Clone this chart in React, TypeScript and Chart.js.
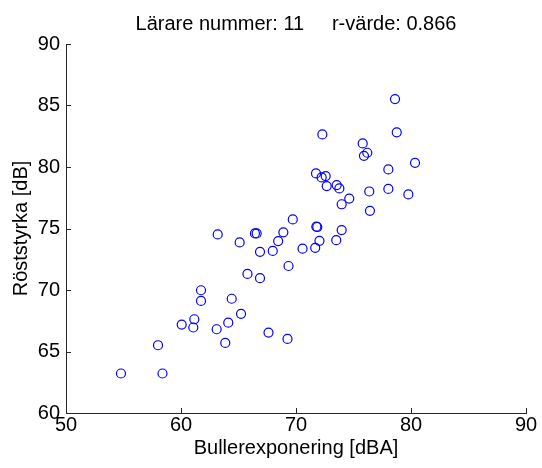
import React, { useEffect, useRef } from "react";
import { Chart, registerables } from "chart.js";

Chart.register(...registerables);

// Noise exposure (dBA) per measurement
const bullerexponering: number[] = [
  54.78, 58.39, 58.0, 60.06, 61.16, 61.07, 61.74, 61.74, 63.1, 63.85,
  64.11, 65.22, 64.41, 65.78, 66.87, 67.61, 69.26, 63.19, 65.1, 66.43,
  66.58, 66.87, 67.98, 68.45, 68.9, 69.72, 69.35, 70.57, 71.67, 72.04,
  71.77, 71.85, 73.5, 73.97, 73.97, 74.63, 76.43, 76.37, 78.03, 79.77,
  78.03, 80.35, 78.61, 78.76, 72.29, 75.8, 76.2, 75.91, 71.74, 72.23,
  72.58, 72.67, 73.54, 73.77,
];

// Voice level (dB) per measurement
const roststyrka: number[] = [
  63.21, 63.21, 65.51, 67.19, 67.62, 66.95, 69.98, 69.11, 66.81, 65.7,
  67.34, 68.06, 69.29, 71.31, 70.96, 66.54, 66.02, 74.52, 73.87, 74.6,
  74.6, 73.1, 73.18, 73.98, 74.69, 75.74, 71.95, 73.36, 73.43, 74.0,
  75.15, 75.12, 74.05, 74.87, 76.97, 77.43, 76.44, 78.01, 78.22, 77.77,
  79.8, 80.34, 85.52, 82.82, 82.65, 81.92, 81.16, 80.91, 79.48, 79.15,
  79.26, 78.45, 78.53, 78.26,
];

const xTicks: number[] = [50, 60, 70, 80, 90];
const yTicks: number[] = [60, 65, 70, 75, 80, 85, 90];

const titleText = "Lärare nummer: 11     r-värde: 0.866";
const xLabel = "Bullerexponering [dBA]";
const yLabel = "Röststyrka [dB]";

const FONT = "'Liberation Sans', Arial, Helvetica, sans-serif";
const AXIS_COLOR = "#262626";

const decorations = {
  id: "decorations",
  afterDraw(chart: any) {
    const { ctx, chartArea, scales } = chart;
    const xs = scales.x;
    const ys = scales.y;
    ctx.save();
    // inward tick marks
    ctx.strokeStyle = AXIS_COLOR;
    ctx.lineWidth = 1;
    ctx.beginPath();
    xTicks.forEach((v) => {
      const px = Math.round(xs.getPixelForValue(v)) + 0.5;
      ctx.moveTo(px, chartArea.bottom);
      ctx.lineTo(px, chartArea.bottom - 5);
    });
    yTicks.forEach((v) => {
      const py = Math.round(ys.getPixelForValue(v)) + 0.5;
      ctx.moveTo(chartArea.left, py);
      ctx.lineTo(chartArea.left + 5, py);
    });
    ctx.stroke();

    ctx.fillStyle = "#000";
    ctx.font = `20px ${FONT}`;
    const cx = (chartArea.left + chartArea.right) / 2;
    const cy = (chartArea.top + chartArea.bottom) / 2;

    ctx.textAlign = "center";
    ctx.textBaseline = "alphabetic";
    ctx.fillText(titleText, cx, 29.5);
    ctx.fillText(xLabel, cx, 454);

    ctx.translate(27, cy);
    ctx.rotate(-Math.PI / 2);
    ctx.fillText(yLabel, 0, 0);
    ctx.restore();
  },
};

export default function App() {
  const canvasRef = useRef<HTMLCanvasElement | null>(null);

  useEffect(() => {
    document.body.style.margin = "0";
    const canvas = canvasRef.current;
    if (!canvas) return;
    const points = bullerexponering.map((x, i) => ({ x, y: roststyrka[i] }));
    const chart = new Chart(canvas, {
      type: "scatter",
      data: {
        datasets: [
          {
            data: points,
            pointStyle: "circle",
            pointRadius: 4.5,
            pointHoverRadius: 4.5,
            pointBorderWidth: 1.2,
            pointBorderColor: "#0000ff",
            pointBackgroundColor: "rgba(0,0,0,0)",
          },
        ],
      },
      options: {
        responsive: false,
        devicePixelRatio: 1,
        animation: false,
        layout: { padding: { top: 44, right: 16, left: 0, bottom: 0 } },
        plugins: {
          legend: { display: false },
          tooltip: { enabled: false },
          title: { display: false },
        },
        scales: {
          x: {
            type: "linear",
            min: 50,
            max: 90,
            afterBuildTicks: (scale: any) => {
              scale.ticks = xTicks.map((v) => ({ value: v }));
            },
            afterFit: (scale: any) => {
              scale.height = 55;
            },
            grid: { display: false, drawTicks: false },
            border: { display: true, color: AXIS_COLOR, width: 1 },
            ticks: {
              color: "#000",
              font: { family: FONT, size: 20 },
              padding: 0,
              maxRotation: 0,
              autoSkip: false,
            },
          },
          y: {
            type: "linear",
            min: 60,
            max: 90,
            afterBuildTicks: (scale: any) => {
              scale.ticks = yTicks.map((v) => ({ value: v }));
            },
            afterFit: (scale: any) => {
              scale.width = 66;
            },
            grid: { display: false, drawTicks: false },
            border: { display: true, color: AXIS_COLOR, width: 1 },
            ticks: {
              color: "#000",
              font: { family: FONT, size: 20 },
              padding: 6,
              autoSkip: false,
            },
          },
        },
      },
      plugins: [decorations],
    });
    return () => chart.destroy();
  }, []);

  return (
    <div style={{ width: 542, height: 468, background: "#fff" }}>
      <canvas ref={canvasRef} width={542} height={468} />
    </div>
  );
}
